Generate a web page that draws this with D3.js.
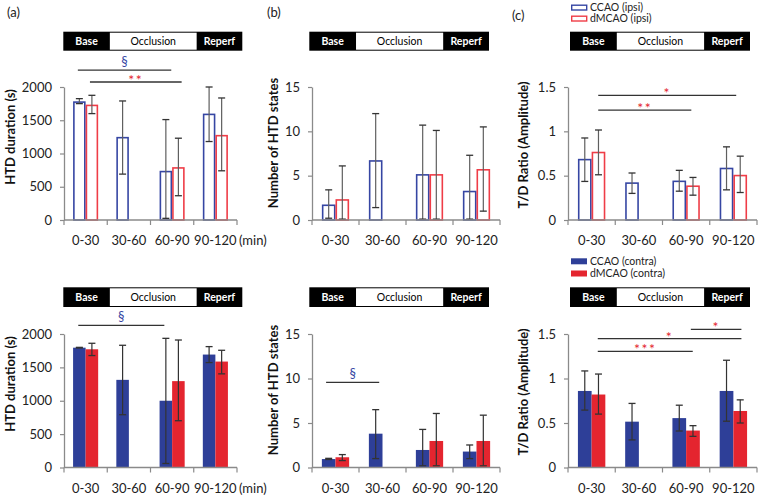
<!DOCTYPE html>
<html>
<head>
<meta charset="UTF-8">
<title></title>
<style type="text/css">
	body { margin: 0; background: #fff; }
	svg { display: block; font-family: Lato, "Open Sans", sans-serif; }
</style>
</head>
<body>
<svg class="chart"></svg>
<script src="https://cdn.jsdelivr.net/npm/d3@7/dist/d3.min.js" type="text/javascript" charset="utf-8"></script>
<script type="text/javascript">
var categories = ["0-30", "30-60", "60-90", "90-120"];
var phases = ["Base", "Occlusion", "Reperf"];
var phaseStops = [0, 0.26, 0.745, 1];

// (a) HTD duration
var htdIpsiCcao = [1785, 1250, 740, 1600];
var htdIpsiCcaoErr = [[1750, 1825], [690, 1790], [25, 1510], [1180, 2000]];
var htdIpsiDmcao = [1735, null, 795, 1280];
var htdIpsiDmcaoErr = [[1600, 1875], null, [365, 1230], [740, 1835]];
var htdContraCcao = [1795, 1313, 1000, 1692];
var htdContraCcaoErr = [[1790, 1800], [791, 1831], [60, 1935], [1572, 1811]];
var htdContraDmcao = [1771, null, 1294, 1587];
var htdContraDmcaoErr = [[1677, 1861], null, [701, 1910], [1403, 1756]];

// (b) number of HTD states
var statesIpsiCcao = [1.75, 6.75, 5.18, 3.3];
var statesIpsiCcaoErr = [[0.2, 3.4], [1.4, 12.0], [0.1, 10.7], [0.1, 7.3]];
var statesIpsiDmcao = [2.35, null, 5.18, 5.75];
var statesIpsiDmcaoErr = [[0.1, 6.1], null, [0.1, 10.1], [1.0, 10.5]];
var statesContraCcao = [0.95, 3.8, 1.97, 1.79];
var statesContraCcaoErr = [[0.9, 1.03], [1.0, 6.5], [0.19, 4.28], [1.0, 2.53]];
var statesContraDmcao = [1.15, null, 2.98, 2.98];
var statesContraDmcaoErr = [[0.78, 1.45], null, [0.19, 6.07], [0.19, 5.88]];

// (c) T/D ratio
var ratioIpsiCcao = [0.69, 0.425, 0.445, 0.59];
var ratioIpsiCcaoErr = [[0.435, 0.925], [0.30, 0.53], [0.325, 0.56], [0.34, 0.825]];
var ratioIpsiDmcao = [0.77, null, 0.39, 0.51];
var ratioIpsiDmcaoErr = [[0.51, 1.015], null, [0.28, 0.48], [0.31, 0.72]];
var ratioContraCcao = [0.86, 0.515, 0.555, 0.86];
var ratioContraCcaoErr = [[0.645, 1.085], [0.31, 0.72], [0.41, 0.70], [0.52, 1.205]];
var ratioContraDmcao = [0.82, null, 0.415, 0.635];
var ratioContraDmcaoErr = [[0.60, 1.05], null, [0.35, 0.47], [0.50, 0.76]];

var yTicksHtd = [0, 500, 1000, 1500, 2000];
var yTicksStates = [0, 5, 10, 15];
var yTicksRatio = [0, 0.5, 1, 1.5];

// significance bars: [from, to (in category units), y value, label, group]
var sigHtdIpsi = [[0.32, 2.48, 2255, "§", 0], [0.6, 2.72, 2075, "**", 1]];
var sigHtdContra = [[0.33, 2.32, 2129, "§", 0]];
var sigStatesContra = [[0.3, 1.43, 9.56, "§", 0]];
var sigRatioIpsi = [[0.64, 3.56, 1.405, "*", 1], [0.64, 2.61, 1.24, "**", 1]];
var sigRatioContra = [[2.6, 3.67, 1.552, "*", 1], [0.63, 3.67, 1.447, "*", 1], [0.63, 2.64, 1.305, "***", 1]];

var legendIpsi = ["CCAO (ipsi)", "dMCAO (ipsi)"];
var legendContra = ["CCAO (contra)", "dMCAO (contra)"];

// layout
var width = 760, height = 496;
var colX = [[64, 237], [312, 500], [568, 757]];
var rowY = [[220, 87], [467.5, 334]];
var phaseX = [[63.3, 242.3], [309.3, 489], [570, 750]];
var phaseY = [[31.7, 50.7], [287.3, 307]];
var yTitleX = [10, 273, 523];
var yTitleOff = [50, 56, 58];
var letterPos = [[7, 16.5], [267, 16.5], [512, 19.5]];
var legendY = [[7.5, 18.5], [261.3, 273.5]];
var outline = ["#3646a3", "#ef3d47"];
var fills = ["#2e3f98", "#e4252f"];

var panels = [
	{col: 0, row: 0, s: [htdIpsiCcao, htdIpsiDmcao], e: [htdIpsiCcaoErr, htdIpsiDmcaoErr], ticks: yTicksHtd, title: "HTD duration (s)", sig: sigHtdIpsi},
	{col: 1, row: 0, s: [statesIpsiCcao, statesIpsiDmcao], e: [statesIpsiCcaoErr, statesIpsiDmcaoErr], ticks: yTicksStates, title: "Number of HTD states", sig: []},
	{col: 2, row: 0, s: [ratioIpsiCcao, ratioIpsiDmcao], e: [ratioIpsiCcaoErr, ratioIpsiDmcaoErr], ticks: yTicksRatio, title: "T/D Ratio (Amplitude)", sig: sigRatioIpsi},
	{col: 0, row: 1, s: [htdContraCcao, htdContraDmcao], e: [htdContraCcaoErr, htdContraDmcaoErr], ticks: yTicksHtd, title: "HTD duration (s)", sig: sigHtdContra},
	{col: 1, row: 1, s: [statesContraCcao, statesContraDmcao], e: [statesContraCcaoErr, statesContraDmcaoErr], ticks: yTicksStates, title: "Number of HTD states", sig: sigStatesContra},
	{col: 2, row: 1, s: [ratioContraCcao, ratioContraDmcao], e: [ratioContraCcaoErr, ratioContraDmcaoErr], ticks: yTicksRatio, title: "T/D Ratio (Amplitude)", sig: sigRatioContra}
];

var svg = d3.select(".chart").attr("width", width).attr("height", height);

["(a)", "(b)", "(c)"].forEach(function(t, i) {
	svg.append("text").attr("x", letterPos[i][0]).attr("y", letterPos[i][1])
		.attr("font-size", 13).attr("fill", "#222").text(t);
});

panels.forEach(function(p) {
	var g = svg.append("g");
	var filled = p.row === 1;
	var xr = colX[p.col], yr = rowY[p.row];
	var x0 = d3.scaleBand().domain(categories).range(xr).paddingInner(0.42).paddingOuter(0.21);
	var x1 = d3.scaleBand().domain([0, 1]).range([0, x0.bandwidth()]);
	var xs = d3.scaleLinear().domain([0, categories.length]).range(xr);
	var y = d3.scaleLinear().domain([0, d3.max(p.ticks)]).range(yr);

	// phase bar
	var px = d3.scaleLinear().domain([0, 1]).range(phaseX[p.col]);
	var py = phaseY[p.row];
	g.append("rect").attr("x", px(0)).attr("y", py[0]).attr("width", px(1) - px(0)).attr("height", py[1] - py[0])
		.attr("fill", "#000");
	g.append("rect").attr("x", px(phaseStops[1])).attr("y", py[0] + 1)
		.attr("width", px(phaseStops[2]) - px(phaseStops[1])).attr("height", py[1] - py[0] - 2)
		.attr("fill", "#fff");
	phases.forEach(function(ph, i) {
		g.append("text")
			.attr("x", (px(phaseStops[i]) + px(phaseStops[i + 1])) / 2)
			.attr("y", (py[0] + py[1]) / 2).attr("dy", "0.36em")
			.attr("text-anchor", "middle").attr("font-size", 10.5)
			.attr("font-weight", i === 1 ? "normal" : "bold")
			.attr("fill", i === 1 ? "#000" : "#fff")
			.text(ph);
	});

	// bars
	p.s.forEach(function(vals, si) {
		vals.forEach(function(v, i) {
			if (v === null) return;
			var bx = x0(categories[i]) + x1(si);
			if (filled) {
				g.append("rect").attr("x", bx).attr("y", y(v)).attr("width", x1.bandwidth())
					.attr("height", y(0) - y(v)).attr("fill", fills[si]);
			} else {
				g.append("rect").attr("x", bx + 0.8).attr("y", y(v) + 0.8).attr("width", x1.bandwidth() - 1.6)
					.attr("height", y(0) - y(v) - 0.8).attr("fill", "#fff")
					.attr("stroke", outline[si]).attr("stroke-width", 1.6);
			}
		});
	});

	// error bars
	p.e.forEach(function(errs, si) {
		errs.forEach(function(er, i) {
			if (er === null) return;
			var cx = x0(categories[i]) + x1(si) + x1.bandwidth() / 2;
			g.append("line").attr("x1", cx).attr("x2", cx).attr("y1", y(er[0])).attr("y2", y(er[1]))
				.attr("stroke", filled ? "#333" : "#5f5f5f").attr("stroke-width", 1.2);
			er.forEach(function(ev) {
				g.append("line").attr("x1", cx - 3.5).attr("x2", cx + 3.5).attr("y1", y(ev)).attr("y2", y(ev))
					.attr("stroke", "#333").attr("stroke-width", 1.3);
			});
		});
	});

	// y axis
	var ya = g.append("g").attr("transform", "translate(" + xr[0] + ",0)")
		.call(d3.axisLeft(y).tickValues(p.ticks).tickSize(4).tickPadding(8).tickSizeOuter(0)
			.tickFormat(function(d) { return String(d); }));
	ya.select(".domain").attr("stroke", "#8a8a8a").attr("stroke-width", 1.3);
	ya.selectAll(".tick line").attr("stroke", "#8a8a8a").attr("stroke-width", 1.2);
	ya.selectAll(".tick text").attr("font-size", 13).attr("fill", "#222").attr("font-family", "Lato, sans-serif");

	// x axis
	g.append("line").attr("x1", xr[0]).attr("x2", xr[1]).attr("y1", y(0)).attr("y2", y(0))
		.attr("stroke", "#8a8a8a").attr("stroke-width", 1.3);
	d3.range(categories.length + 1).forEach(function(k) {
		g.append("line").attr("x1", xs(k)).attr("x2", xs(k)).attr("y1", y(0)).attr("y2", y(0) + 5)
			.attr("stroke", "#8a8a8a").attr("stroke-width", 1.2);
	});
	categories.forEach(function(c) {
		g.append("text").attr("x", x0(c) + x0.bandwidth() / 2).attr("y", y(0) + 25)
			.attr("text-anchor", "middle").attr("font-size", 13).attr("fill", "#222").text(c);
	});
	if (p.col === 0) {
		g.append("text").attr("x", xr[1] + 2).attr("y", y(0) + 25)
			.attr("font-size", 13).attr("fill", "#222").text("(min)");
	}

	// y title
	g.append("text")
		.attr("transform", "translate(" + yTitleX[p.col] + "," + (yr[1] + yTitleOff[p.col]) + ") rotate(-90)")
		.attr("dy", "0.36em").attr("text-anchor", "middle")
		.attr("font-size", 13).attr("font-weight", "bold").attr("fill", "#111")
		.text(p.title);

	// significance
	p.sig.forEach(function(sg) {
		var ly = y(sg[2]);
		g.append("line").attr("x1", xs(sg[0])).attr("x2", xs(sg[1])).attr("y1", ly).attr("y2", ly)
			.attr("stroke", "#333").attr("stroke-width", 1.3);
		var isStar = sg[4] === 1;
		g.append("text").attr("x", (xs(sg[0]) + xs(sg[1])) / 2)
			.attr("y", isStar ? ly + 3 : ly - 4)
			.attr("text-anchor", "middle")
			.attr("font-size", isStar ? 14 : 13)
			.attr("letter-spacing", isStar ? 1.5 : 0)
			.attr("fill", isStar ? fills[1] : "#3646a3")
			.text(sg[3]);
	});

	// legend
	if (p.col === 2) {
		var labels = p.row === 0 ? legendIpsi : legendContra;
		labels.forEach(function(l, si) {
			var ly = legendY[p.row][si];
			if (filled) {
				g.append("rect").attr("x", 571).attr("y", ly - 3).attr("width", 16).attr("height", 6)
					.attr("fill", fills[si]);
			} else {
				g.append("rect").attr("x", 571.7).attr("y", ly - 2.3).attr("width", 15).attr("height", 4.8)
					.attr("fill", "#fff").attr("stroke", outline[si]).attr("stroke-width", 1.4);
			}
			g.append("text").attr("x", 590).attr("y", ly).attr("dy", "0.36em")
				.attr("font-size", 10.5).attr("fill", "#222").text(l);
		});
	}
});
</script>
</body>
</html>
